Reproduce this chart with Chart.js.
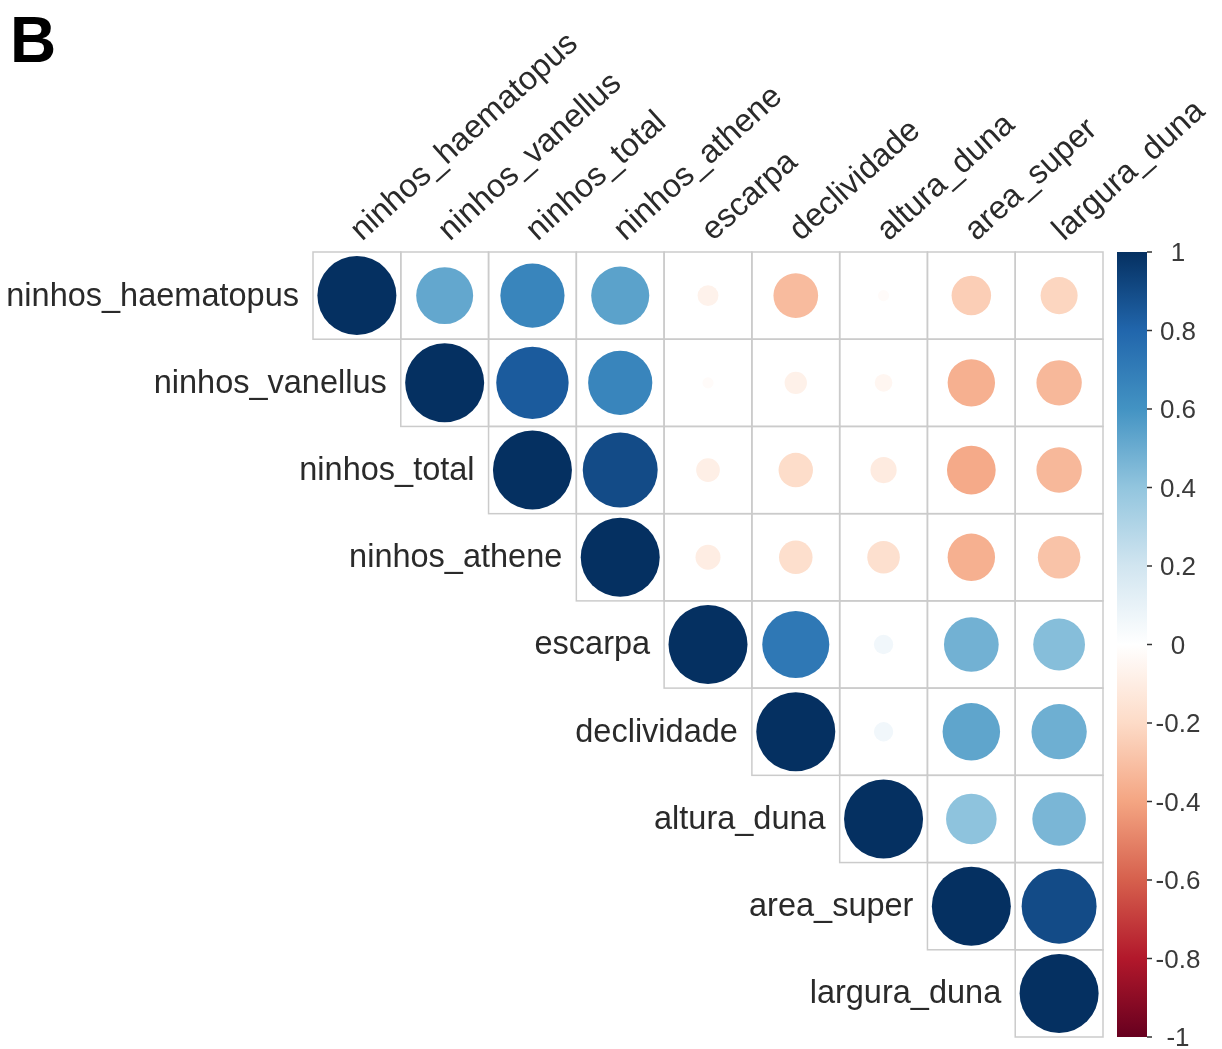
<!DOCTYPE html>
<html>
<head>
<meta charset="utf-8">
<script src="https://cdn.jsdelivr.net/npm/chart.js@4/dist/chart.umd.min.js"></script>
<style>
  html, body { margin: 0; padding: 0; background: #ffffff; }
  canvas { display: block; }
</style>
</head>
<body>
<canvas id="corr" width="1222" height="1049"></canvas>
<script>
// Variable names (rows and columns of the correlation matrix)
const variables = [
  'ninhos_haematopus', 'ninhos_vanellus', 'ninhos_total', 'ninhos_athene',
  'escarpa', 'declividade', 'altura_duna', 'area_super', 'largura_duna'
];

// Upper triangle of the correlation matrix: row i lists columns i..8
const corrUpper = [
  [1, 0.52, 0.66, 0.54, -0.07, -0.32, -0.02, -0.25, -0.22],
  [1, 0.84, 0.66, -0.02, -0.08, -0.05, -0.36, -0.33],
  [1, 0.90, -0.09, -0.19, -0.11, -0.38, -0.33],
  [1, -0.10, -0.18, -0.17, -0.36, -0.29],
  [1, 0.72, 0.06, 0.48, 0.43],
  [1, 0.06, 0.53, 0.49],
  [1, 0.41, 0.46],
  [1, 0.90],
  [1]
];

// Colour key ticks
const colorbarTicks = [1, 0.8, 0.6, 0.4, 0.2, 0, -0.2, -0.4, -0.6, -0.8, -1];

// Diverging red-blue palette, from -1 to 1 in steps of 0.2
const paletteStops = [
  '#67001F', '#B2182B', '#D6604D', '#F4A582', '#FDDBC7', '#FFFFFF',
  '#D1E5F0', '#92C5DE', '#4393C3', '#2166AC', '#053061'
];

function hexToRgb(h) {
  return [parseInt(h.slice(1, 3), 16), parseInt(h.slice(3, 5), 16), parseInt(h.slice(5, 7), 16)];
}
function corrColor(v) {
  const t = Math.max(0, Math.min(1, (v + 1) / 2)) * (paletteStops.length - 1);
  const k = Math.min(paletteStops.length - 2, Math.floor(t));
  const f = t - k;
  const a = hexToRgb(paletteStops[k]), b = hexToRgb(paletteStops[k + 1]);
  const c = a.map((av, n) => Math.round(av + (b[n] - av) * f));
  return `rgb(${c[0]},${c[1]},${c[2]})`;
}

// One point per cell of the upper triangle
const points = [];
corrUpper.forEach((row, i) => {
  row.forEach((v, k) => points.push({ x: i + k + 1, y: i + 1, v }));
});

// circle area proportional to |r|
function circleRadius(c) {
  const p = points[c.dataIndex];
  const xs = c.chart.scales.x;
  if (!p || !xs) return 0;
  const cell = Math.abs(xs.getPixelForValue(2) - xs.getPixelForValue(1));
  if (!isFinite(cell)) return 0;
  return 0.45 * cell * Math.sqrt(Math.abs(p.v));
}
function circleColor(c) {
  const p = points[c.dataIndex];
  return p ? corrColor(p.v) : '#ffffff';
}

const textColor = '#2a2a2a';
const labelFont = '32.5px "Liberation Sans", Arial, sans-serif';

const corrDecor = {
  id: 'corrDecor',
  beforeDatasetsDraw(chart) {
    const { ctx, scales: { x, y } } = chart;
    ctx.save();
    ctx.strokeStyle = '#cbcbcb';
    ctx.lineWidth = 1.5;
    for (let i = 0; i < variables.length; i++) {
      for (let j = i; j < variables.length; j++) {
        const l = x.getPixelForValue(j + 0.5), r = x.getPixelForValue(j + 1.5);
        const t = y.getPixelForValue(i + 0.5), b = y.getPixelForValue(i + 1.5);
        ctx.strokeRect(l, t, r - l, b - t);
      }
    }
    ctx.restore();
  },
  afterDraw(chart) {
    const { ctx, scales: { x, y, cb } } = chart;
    ctx.save();
    ctx.fillStyle = textColor;
    ctx.font = labelFont;

    // row labels, right-aligned left of the diagonal cell
    ctx.textAlign = 'right';
    ctx.textBaseline = 'middle';
    variables.forEach((name, i) => {
      ctx.fillText(name, x.getPixelForValue(i + 0.5) - 14, y.getPixelForValue(i + 1) + 1);
    });

    // column labels, slanted above the grid
    const top = y.getPixelForValue(0.5);
    ctx.textAlign = 'left';
    ctx.textBaseline = 'middle';
    variables.forEach((name, j) => {
      ctx.save();
      ctx.translate(x.getPixelForValue(j + 1) - 1, top - 17);
      ctx.rotate(-42 * Math.PI / 180);
      ctx.fillText(name, 0, 0);
      ctx.restore();
    });

    // colour key
    const barL = x.right + 14, barR = barL + 30;
    const yTop = cb.getPixelForValue(1), yBot = cb.getPixelForValue(-1);
    const grad = ctx.createLinearGradient(0, yBot, 0, yTop);
    paletteStops.forEach((c, k) => grad.addColorStop(k / (paletteStops.length - 1), c));
    ctx.fillStyle = grad;
    ctx.fillRect(barL, yTop, barR - barL, yBot - yTop);

    ctx.strokeStyle = '#333333';
    ctx.lineWidth = 1.5;
    ctx.fillStyle = '#3a3a3a';
    ctx.font = '26px "Liberation Sans", Arial, sans-serif';
    ctx.textAlign = 'center';
    ctx.textBaseline = 'middle';
    colorbarTicks.forEach(v => {
      const py = cb.getPixelForValue(v);
      ctx.beginPath();
      ctx.moveTo(barR, py);
      ctx.lineTo(barR + 5, py);
      ctx.stroke();
      ctx.fillText(String(v), barR + 31, py + 2);
    });

    // panel letter
    ctx.fillStyle = '#000000';
    ctx.font = 'bold 64px "Liberation Sans", Arial, sans-serif';
    ctx.textAlign = 'left';
    ctx.textBaseline = 'alphabetic';
    ctx.fillText('B', 10, 62);
    ctx.restore();
  }
};

new Chart(document.getElementById('corr'), {
  type: 'scatter',
  data: {
    datasets: [{
      data: points,
      showLine: false,
      pointRadius: circleRadius,
      pointHoverRadius: circleRadius,
      pointBackgroundColor: circleColor,
      pointBorderColor: circleColor,
      pointBorderWidth: 0,
      pointHitRadius: 0
    }]
  },
  options: {
    responsive: false,
    animation: false,
    events: [],
    layout: { autoPadding: false, padding: { left: 313, right: 119, top: 252, bottom: 12 } },
    plugins: { legend: { display: false }, tooltip: { enabled: false } },
    scales: {
      x: { type: 'linear', min: 0.5, max: 9.5, display: false },
      y: { type: 'linear', min: 0.5, max: 9.5, reverse: true, display: false },
      cb: { type: 'linear', axis: 'y', position: 'right', min: -1, max: 1, display: false }
    }
  },
  plugins: [corrDecor]
});
</script>
</body>
</html>
